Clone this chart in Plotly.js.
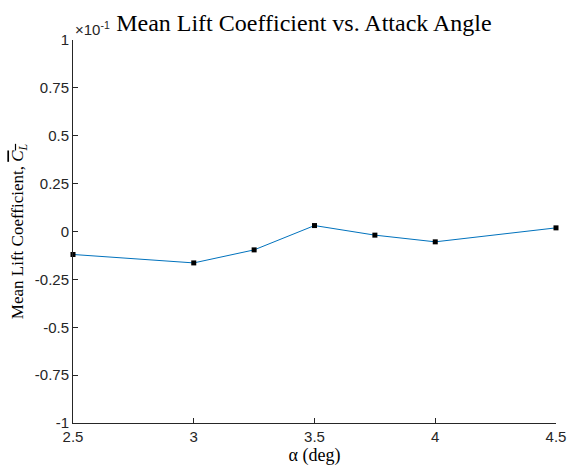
<!DOCTYPE html>
<html>
<head>
<meta charset="utf-8">
<script src="https://cdn.plot.ly/plotly-3.0.1.min.js"></script>
<style>
  html, body { margin: 0; padding: 0; background: #fff; }
  #plot { width: 568px; height: 472px; }
</style>
</head>
<body>
<div id="plot"></div>
<script>
// Attack angles (deg) and mean lift coefficient at each angle
const alphaDeg = [2.5, 3, 3.25, 3.5, 3.75, 4, 4.5];
const meanCL = [-0.0120, -0.0164, -0.0096, 0.0031, -0.0019, -0.0054, 0.0019];

// y ticks are shown scaled by 10^-1
const yTickVals = [-0.1, -0.075, -0.05, -0.025, 0, 0.025, 0.05, 0.075, 0.1];
const yTickText = ['-1', '-0.75', '-0.5', '-0.25', '0', '0.25', '0.5', '0.75', '1'];
const xTickVals = [2.5, 3, 3.5, 4, 4.5];
const xTickText = ['2.5', '3', '3.5', '4', '4.5'];

const axisColor = '#262626';
const serif = '"Liberation Serif", "DejaVu Serif", serif';
const sans = '"Liberation Sans", Arial, sans-serif';

const trace = {
  x: alphaDeg,
  y: meanCL,
  type: 'scatter',
  mode: 'lines+markers',
  line: { color: '#0072BD', width: 1 },
  marker: { symbol: 'square', size: 5, color: '#000000', line: { width: 0 } },
  cliponaxis: false,
  showlegend: false
};

const layout = {
  width: 568,
  height: 472,
  margin: { l: 73, r: 12, t: 40, b: 49 },
  paper_bgcolor: '#ffffff',
  plot_bgcolor: '#ffffff',
  title: {
    text: 'Mean Lift Coefficient vs. Attack Angle',
    font: { family: serif, size: 24, color: '#000000' },
    x: 0.535, xanchor: 'center',
    y: 0.953, yanchor: 'middle'
  },
  xaxis: {
    range: [2.5, 4.5],
    tickvals: xTickVals,
    ticktext: xTickText,
    ticks: 'inside',
    ticklen: 5,
    tickcolor: axisColor,
    showline: true,
    linecolor: axisColor,
    linewidth: 1,
    showgrid: false,
    zeroline: false,
    tickfont: { family: sans, size: 15, color: axisColor },
    title: {
      text: 'α (deg)',
      font: { family: serif, size: 18, color: '#000000' },
      standoff: 4
    }
  },
  yaxis: {
    range: [-0.1, 0.1],
    tickvals: yTickVals,
    ticktext: yTickText,
    ticks: 'inside',
    ticklen: 5,
    tickcolor: axisColor,
    showline: true,
    linecolor: axisColor,
    linewidth: 1,
    showgrid: false,
    zeroline: false,
    tickfont: { family: sans, size: 15, color: axisColor },
    title: {
      text: 'Mean Lift Coefficient, <span style="text-decoration:overline"><i>C</i><sub><i>L</i></sub></span>',
      font: { family: serif, size: 17, color: '#000000' },
      standoff: 6
    }
  },
  annotations: [{
    text: '×10<sup>-1</sup>',
    xref: 'paper', yref: 'paper',
    x: 0, y: 1,
    xanchor: 'left', yanchor: 'bottom',
    yshift: 0,
    showarrow: false,
    font: { family: sans, size: 15, color: axisColor }
  }]
};

Plotly.newPlot('plot', [trace], layout, { staticPlot: true, displayModeBar: false });
</script>
</body>
</html>
